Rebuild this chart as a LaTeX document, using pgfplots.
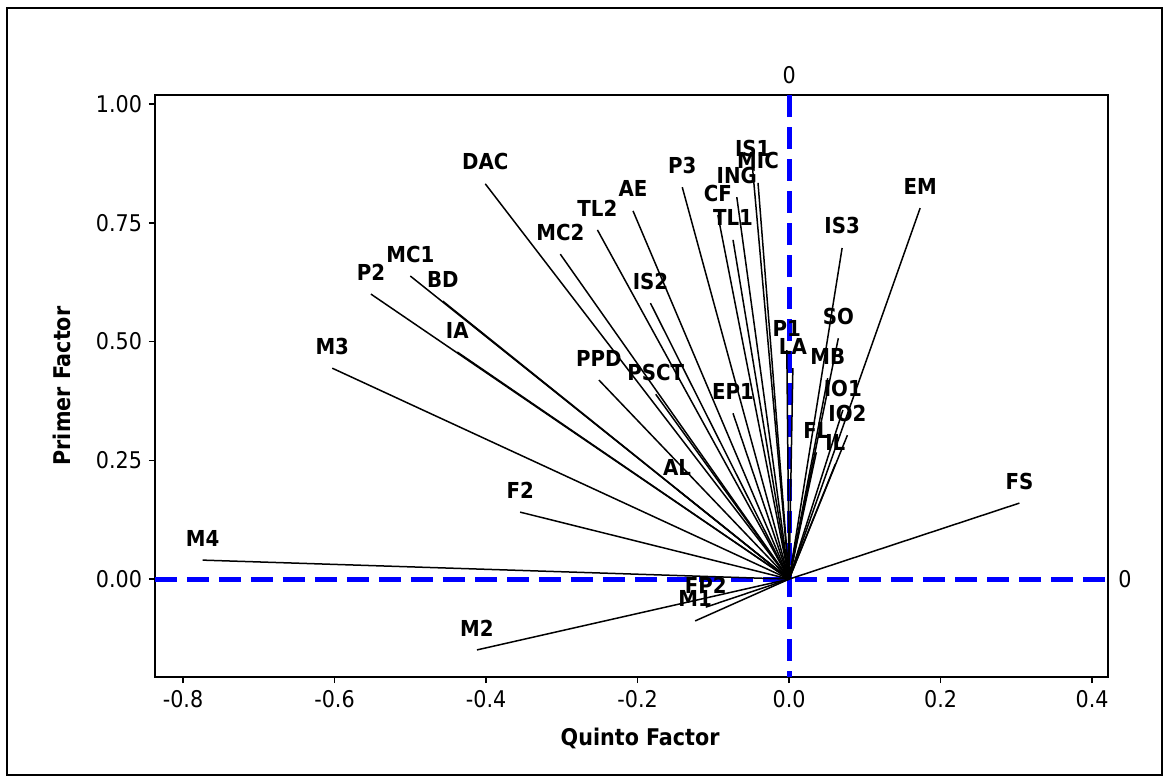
\documentclass[border=0pt]{standalone}
\usepackage{fontspec}
\setmainfont{DejaVu Sans Condensed}
\usepackage{pgfplots}
\pgfplotsset{compat=1.18}
\newcommand\ld[3]{\addplot[black, line width=0.75pt] coordinates {(0,0) (#1,#2)} node[pos=1, anchor=center, inner sep=0pt, yshift=11pt, font=\bfseries\fontsize{11}{13}\selectfont] {#3};}
\begin{document}
\begin{tikzpicture}[x=1pt,y=1pt]
\useasboundingbox (0,0) rectangle (584.5,391.5);
\draw[line width=1pt] (3.5,4) rectangle (581,387.5);
\begin{axis}[
  at={(77.5pt,53pt)}, anchor=south west,
  scale only axis, width=476.5pt, height=291pt,
  xmin=-0.837, xmax=0.421, ymin=-0.206, ymax=1.019,
  xtick={-0.8,-0.6,-0.4,-0.2,0,0.2,0.4},
  xticklabels={-0.8,-0.6,-0.4,-0.2,0.0,0.2,0.4},
  ytick={0,0.25,0.5,0.75,1},
  yticklabels={0.00,0.25,0.50,0.75,1.00},
  xtick pos=bottom, ytick pos=left,
  tick align=outside, major tick length=3pt,
  tick label style={font=\fontsize{11.5}{13}\selectfont},
  axis line style={line width=0.75pt},
  major tick style={line width=0.75pt, black},
  xlabel={Quinto Factor}, ylabel={Primer Factor},
  label style={font=\bfseries\fontsize{11.5}{13}\selectfont},
  xlabel style={at={(axis description cs:0.509,-0.105)}, anchor=center},
  ylabel style={at={(axis description cs:-0.0976,0.5)}, anchor=center},
  clip=false,
]
\addplot[blue, line width=2.5pt, dash pattern=on 11pt off 5pt] coordinates {(-0.837,0) (0.421,0)};
\addplot[blue, line width=2.5pt, dash pattern=on 11pt off 5pt] coordinates {(0,1.019) (0,-0.206)};
\ld{-0.401}{0.832}{DAC}
\ld{-0.774}{0.040}{M4}
\ld{-0.603}{0.444}{M3}
\ld{-0.552}{0.600}{P2}
\ld{-0.500}{0.638}{MC1}
\ld{-0.457}{0.585}{BD}
\ld{-0.438}{0.478}{IA}
\ld{-0.302}{0.684}{MC2}
\ld{-0.253}{0.735}{TL2}
\ld{-0.206}{0.775}{AE}
\ld{-0.141}{0.825}{P3}
\ld{-0.094}{0.766}{CF}
\ld{-0.074}{0.714}{TL1}
\ld{-0.069}{0.804}{ING}
\ld{-0.048}{0.861}{IS1}
\ld{-0.041}{0.834}{MIC}
\ld{-0.183}{0.581}{IS2}
\ld{-0.251}{0.419}{PPD}
\ld{-0.176}{0.389}{PSCT}
\ld{-0.074}{0.349}{EP1}
\ld{-0.148}{0.189}{AL}
\ld{-0.355}{0.141}{F2}
\ld{-0.003}{0.482}{P1}
\ld{0.005}{0.444}{LA}
\ld{0.065}{0.507}{SO}
\ld{0.051}{0.423}{MB}
\ld{0.070}{0.697}{IS3}
\ld{0.173}{0.781}{EM}
\ld{0.071}{0.356}{IO1}
\ld{0.077}{0.303}{IO2}
\ld{0.036}{0.267}{FL}
\ld{0.061}{0.242}{IL}
\ld{0.304}{0.160}{FS}
\ld{-0.412}{-0.149}{M2}
\ld{-0.124}{-0.088}{M1}
\ld{-0.110}{-0.059}{FP2}
\node[font=\fontsize{11.5}{13}\selectfont, anchor=center] at (axis cs:0,1.019) [yshift=10pt] {0};
\node[font=\fontsize{11.5}{13}\selectfont, anchor=center] at (axis cs:0.421,0) [xshift=8.5pt] {0};
\end{axis}
\end{tikzpicture}
\end{document}
